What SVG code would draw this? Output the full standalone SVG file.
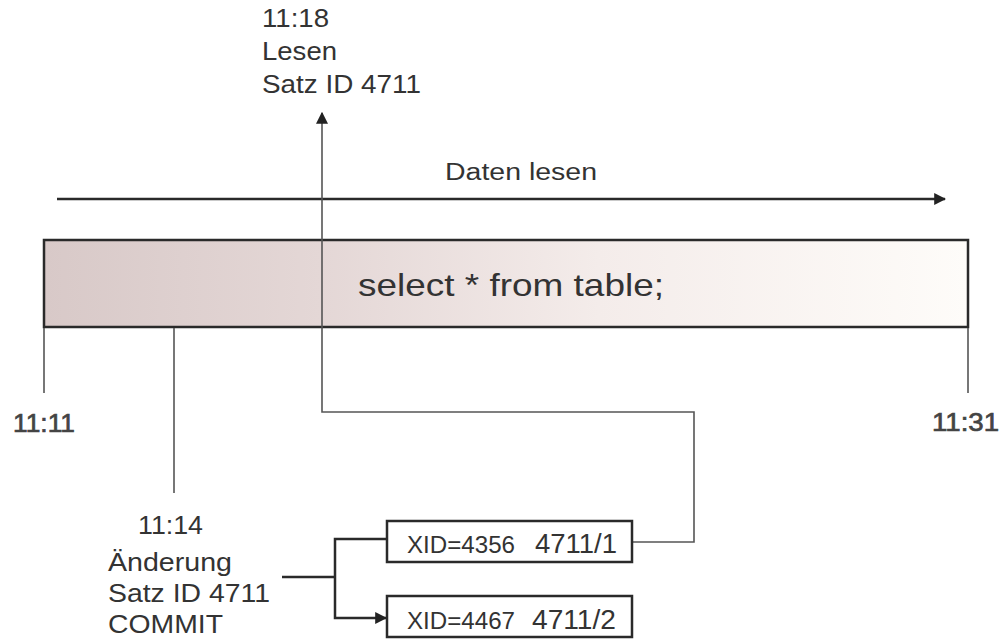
<svg xmlns="http://www.w3.org/2000/svg" width="999" height="639" viewBox="0 0 999 639">
  <defs>
    <linearGradient id="bandFill" x1="0" y1="0" x2="1" y2="0">
      <stop offset="0" stop-color="#d8c9c8"/>
      <stop offset="0.3" stop-color="#e4d7d6"/>
      <stop offset="0.6" stop-color="#f4ecea"/>
      <stop offset="1" stop-color="#fefcf9"/>
    </linearGradient>
    <marker id="arrow" viewBox="0 0 10 10" refX="9" refY="5" markerWidth="12" markerHeight="12" markerUnits="userSpaceOnUse" orient="auto">
      <path d="M0,0 L10,5 L0,10 z" fill="#222"/>
    </marker>
  </defs>
  <style>
    text { font-family: "Liberation Sans", Arial, sans-serif; fill: #333; }
    .lbl { font-size: 26px; }
    .semi { fill: #444; stroke: #444; stroke-width: 0.7; }
    .thin { fill: none; stroke: #555; stroke-width: 1.6; }
    .thick { fill: none; stroke: #2a2a2a; stroke-width: 2.5; }
    .box { fill: #fff; stroke: #2a2a2a; stroke-width: 2.5; }
  </style>
  <rect width="999" height="639" fill="#fff"/>

  <g id="query">
    <rect x="44" y="240" width="924" height="87" fill="url(#bandFill)" stroke="#2a2a2a" stroke-width="2.5"/>
    <text x="358" y="296" font-size="32" textLength="306" lengthAdjust="spacingAndGlyphs">select * from table;</text>
  </g>

  <g id="connectors">
    <line class="thick" x1="57" y1="199" x2="945" y2="199" marker-end="url(#arrow)"/>
    <line class="thin" x1="44" y1="328" x2="44" y2="393"/>
    <line class="thin" x1="174" y1="328" x2="174" y2="493"/>
    <line class="thin" x1="968" y1="328" x2="968" y2="393"/>
    <polyline class="thin" points="632,542 694,542 694,412 322,412 322,113" marker-end="url(#arrow)"/>
    <line class="thick" x1="282" y1="577" x2="335" y2="577"/>
    <polyline class="thick" points="387,539 335,539 335,618 386,618" marker-end="url(#arrow)"/>
  </g>

  <g id="read-label">
    <text class="lbl" x="262" y="27" textLength="67" lengthAdjust="spacingAndGlyphs">11:18</text>
    <text class="lbl" x="262" y="60" textLength="75" lengthAdjust="spacingAndGlyphs">Lesen</text>
    <text class="lbl" x="262" y="93" textLength="159" lengthAdjust="spacingAndGlyphs">Satz ID 4711</text>
  </g>

  <g id="daten-lesen">
    <text x="445" y="180" font-size="23" textLength="152" lengthAdjust="spacingAndGlyphs">Daten lesen</text>
  </g>

  <g id="t-start">
    <text class="lbl semi" x="13" y="432" textLength="62" lengthAdjust="spacingAndGlyphs">11:11</text>
  </g>
  <g id="t-end">
    <text class="lbl semi" x="932" y="431" textLength="67" lengthAdjust="spacingAndGlyphs">11:31</text>
  </g>

  <g id="change-label">
    <text class="lbl" x="138" y="534" textLength="65" lengthAdjust="spacingAndGlyphs">11:14</text>
    <text class="lbl" x="108" y="571" textLength="124" lengthAdjust="spacingAndGlyphs">Änderung</text>
    <text class="lbl" x="108" y="602" textLength="162" lengthAdjust="spacingAndGlyphs">Satz ID 4711</text>
    <text class="lbl" x="108" y="633" textLength="115" lengthAdjust="spacingAndGlyphs">COMMIT</text>
  </g>

  <g id="version1">
    <rect class="box" x="387" y="521" width="245" height="41"/>
    <text x="407" y="553" font-size="23" textLength="108" lengthAdjust="spacingAndGlyphs">XID=4356</text>
    <text x="535" y="553" font-size="27" textLength="82" lengthAdjust="spacingAndGlyphs">4711/1</text>
  </g>

  <g id="version2">
    <rect class="box" x="387" y="596" width="245" height="41"/>
    <text x="407" y="629" font-size="23" textLength="108" lengthAdjust="spacingAndGlyphs">XID=4467</text>
    <text x="532" y="629" font-size="27" textLength="84" lengthAdjust="spacingAndGlyphs">4711/2</text>
  </g>
</svg>
